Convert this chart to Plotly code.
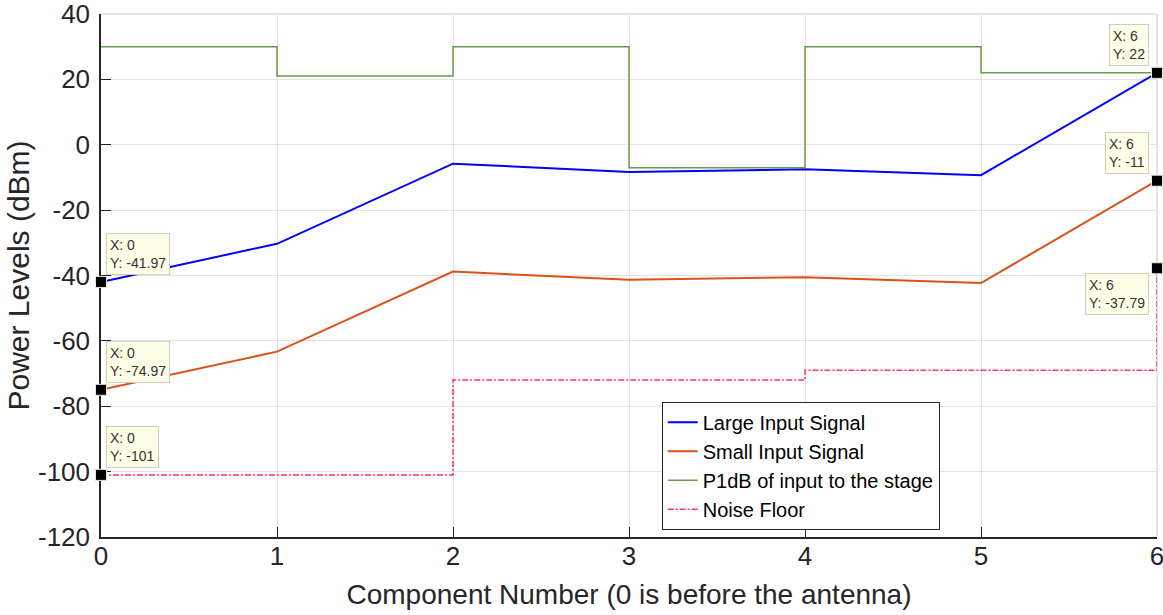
import plotly.graph_objects as go

# Component index along the receive chain
components = [0, 1, 2, 3, 4, 5, 6]

# Signal levels at each component (dBm)
large_signal = [-41.97, -30.3, -5.8, -8.3, -7.5, -9.3, 22]
small_signal = [-74.97, -63.3, -38.8, -41.3, -40.5, -42.3, -11]

# Input 1 dB compression point of each stage (dBm), drawn as steps
p1db_x = [0, 1, 2, 3, 4, 5, 6]
p1db = [30, 21, 30, -7, 30, 22, 22]

# Noise floor (dBm), drawn as steps
noise_x = [0, 1, 2, 3, 4, 5, 6, 6]
noise = [-101, -101, -72, -72, -69, -69, -69, -37.79]

# Axis ticks
x_ticks = [0, 1, 2, 3, 4, 5, 6]
y_ticks = [-120, -100, -80, -60, -40, -20, 0, 20, 40]
y_tick_text = [str(v) for v in y_ticks]

# Data tips: (x, y, horizontal side, vertical side)
tips = [
    (0, -41.97, "right", "above"),
    (0, -74.97, "right", "above"),
    (0, -101, "right", "above"),
    (6, 22, "left", "above"),
    (6, -11, "left", "above"),
    (6, -37.79, "left", "below"),
]

FONT = "Liberation Sans, Arial, sans-serif"
AXIS_COLOR = "#262626"

fig = go.Figure()

fig.add_trace(go.Scatter(x=components, y=large_signal, mode="lines",
                         name="Large Input Signal",
                         line=dict(color="#0000FF", width=2)))
fig.add_trace(go.Scatter(x=components, y=small_signal, mode="lines",
                         name="Small Input Signal",
                         line=dict(color="#D95319", width=2)))
fig.add_trace(go.Scatter(x=p1db_x, y=p1db, mode="lines",
                         name="P1dB of input to the stage",
                         line=dict(color="#6B9A4F", width=1.5, shape="hv")))
fig.add_trace(go.Scatter(x=noise_x, y=noise, mode="lines",
                         name="Noise Floor",
                         line=dict(color="#FF3366", width=1.5, shape="hv",
                                   dash="6px,2px,2px,2px")))

# Data tip markers
fig.add_trace(go.Scatter(x=[t[0] for t in tips], y=[t[1] for t in tips],
                         mode="markers", showlegend=False, cliponaxis=False,
                         marker=dict(symbol="square", size=11, color="black",
                                     line=dict(color="#E8E8D0", width=1))))

for x, y, side, vert in tips:
    label = f"{y:g}" if abs(y - round(y)) > 1e-9 else f"{int(round(y))}"
    fig.add_annotation(
        x=x, y=y, xref="x", yref="y", showarrow=False,
        text=f"X: {x}<br>Y: {label}", align="left",
        font=dict(family=FONT, size=14, color="#333333"),
        bgcolor="#FFFFE8", bordercolor="#CFCFC0", borderwidth=1, borderpad=3,
        xanchor="left" if side == "right" else "right",
        yanchor="bottom" if vert == "above" else "top",
        xshift=5 if side == "right" else -8,
        yshift=7 if vert == "above" else -5,
    )

# Light frame on the top and right edges
fig.add_shape(type="line", xref="paper", yref="paper", x0=0, x1=1, y0=1, y1=1,
              layer="below", line=dict(color="#C8C8C8", width=1))
fig.add_shape(type="line", xref="paper", yref="paper", x0=1, x1=1, y0=0, y1=1,
              layer="below", line=dict(color="#C8C8C8", width=1))

fig.update_layout(
    width=1163, height=615,
    margin=dict(l=101, r=6, t=14, b=78, autoexpand=False),
    paper_bgcolor="white", plot_bgcolor="white",
    font=dict(family=FONT, color=AXIS_COLOR),
    legend=dict(
        x=0.531, y=0.136, xanchor="left", yanchor="middle",
        bgcolor="white", bordercolor=AXIS_COLOR, borderwidth=1,
        font=dict(family=FONT, size=20, color="black"),
        itemwidth=30, tracegroupgap=0,
    ),
    xaxis=dict(
        range=[0, 6], tickmode="array", tickvals=x_ticks,
        showgrid=True, gridcolor="#E3E3E3", gridwidth=1,
        zeroline=False, showline=True, linecolor=AXIS_COLOR, linewidth=1.5,
        ticks="inside", ticklen=10, tickcolor=AXIS_COLOR,
        tickfont=dict(size=26, color=AXIS_COLOR), ticklabelstandoff=-5,
        ticklabeloverflow="allow", automargin=False, layer="below traces",
        title=dict(text="Component Number (0 is before the antenna)",
                   font=dict(size=28, color=AXIS_COLOR), standoff=14),
    ),
    yaxis=dict(
        range=[-120, 40], tickmode="array", tickvals=y_ticks,
        ticktext=y_tick_text,
        showgrid=True, gridcolor="#E3E3E3", gridwidth=1,
        zeroline=False, showline=True, linecolor=AXIS_COLOR, linewidth=1.5,
        ticks="inside", ticklen=10, tickcolor=AXIS_COLOR,
        tickfont=dict(size=26, color=AXIS_COLOR), ticklabelstandoff=4,
        ticklabeloverflow="allow", automargin=False, layer="below traces",
        title=dict(text="Power Levels (dBm)",
                   font=dict(size=30, color=AXIS_COLOR), standoff=0),
    ),
)

fig.write_html("out.html")
